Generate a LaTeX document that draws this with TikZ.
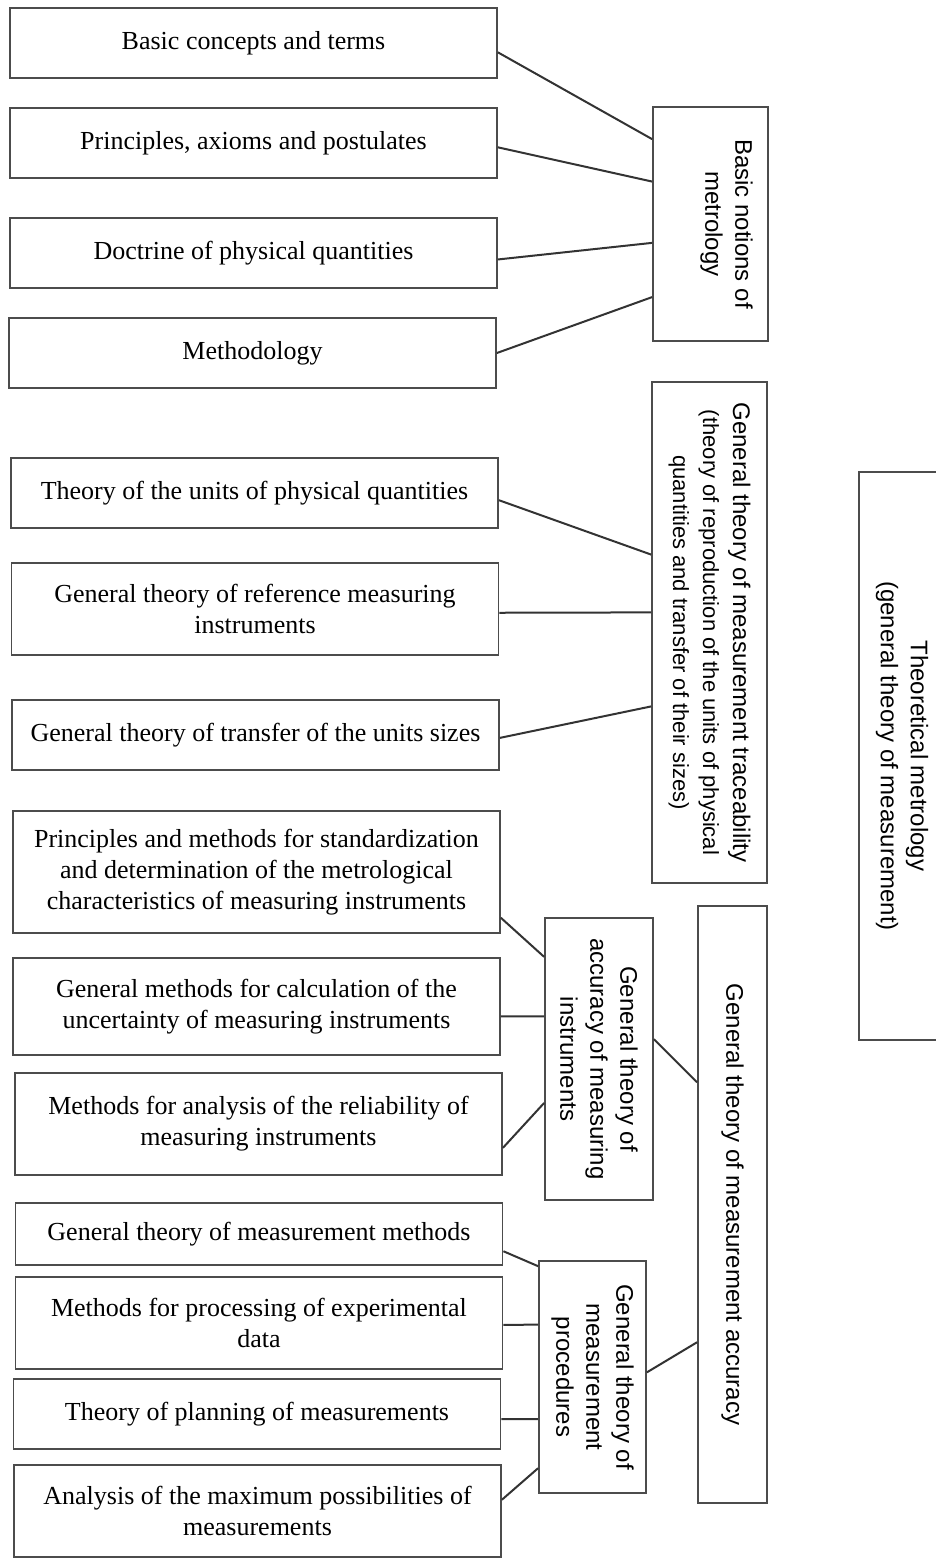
\documentclass[tikz,border=0pt]{standalone}
\usepackage{fontspec}
\setmainfont{Liberation Serif}
\newfontfamily\labelsf{Liberation Sans}
\usetikzlibrary{positioning}
\usetikzlibrary{calc}

\newcommand{\smallsf}{\fontsize{11}{14}\selectfont}

\tikzset{
  topic/.style={draw=black!70, line width=0.9pt, minimum width=243.5pt, align=center, inner sep=1pt,
    font=\fontsize{13}{15.5}\selectfont},
  branch/.style={draw=black!70, line width=0.9pt, rotate=-90, align=center, inner sep=1pt,
    font=\labelsf\fontsize{12}{15}\selectfont},
  link/.style={draw=black!80, line width=1pt}
}

\begin{document}
\begin{tikzpicture}[x=0.5pt,y=-0.5pt]
\useasboundingbox (0,0) rectangle (936,1560);

% left column
\node[topic, minimum height=35pt] (concepts) at (253.5,43) {Basic concepts and terms};
\node[topic, minimum height=35pt] (axioms) at (253.5,143) {Principles, axioms and postulates};
\node[topic, minimum height=35pt] (doctrine) at (253.5,253) {Doctrine of physical quantities};
\node[topic, minimum height=35pt] (method) at (252.5,353) {Methodology};

\node[topic, minimum height=35pt] (units) at (254.5,493) {Theory of the units of physical quantities};
\node[topic, minimum height=46pt] (reference) at (255,609) {General theory of reference measuring\\instruments};
\node[topic, minimum height=35pt] (transfer) at (255.5,735) {General theory of transfer of the units sizes};

\node[topic, minimum height=61pt] (standard) at (256.5,872) {Principles and methods for standardization\\and determination of the metrological\\characteristics of measuring instruments};
\node[topic, minimum height=48.5pt] (uncert) at (256.5,1006.5) {General methods for calculation of the\\uncertainty of measuring instruments};
\node[topic, minimum height=51pt] (reliab) at (258.5,1124) {Methods for analysis of the reliability of\\measuring instruments};

\node[topic, minimum height=31pt] (methods) at (259,1234) {General theory of measurement methods};
\node[topic, minimum height=46pt] (processing) at (259,1323) {Methods for processing of experimental\\data};
\node[topic, minimum height=35pt] (planning) at (257,1414) {Theory of planning of measurements};
\node[topic, minimum height=46pt] (maxposs) at (257.5,1511) {Analysis of the maximum possibilities of\\measurements};

% vertical boxes
\node[branch, minimum width=117pt, minimum height=57.5pt, text depth=18.5pt] (notions) at (710.5,224) {Basic notions of\\metrology};
\node[branch, minimum width=250.5pt, minimum height=57.5pt] (trace) at (709.5,632.5) {General theory of measurement traceability\\\smallsf(theory of reproduction of the units of physical\\\smallsf quantities and transfer of their sizes)};
\node[branch, minimum width=141pt, minimum height=54pt] (instr) at (599,1059) {General theory of\\accuracy of measuring\\instruments};
\node[branch, minimum width=116pt, minimum height=53.5pt] (proced) at (592.5,1377) {General theory of\\measurement\\procedures};
\node[branch, minimum width=298.5pt, minimum height=34.5pt] (accuracy) at (732.5,1204.5) {General theory of measurement accuracy};
\node[branch, minimum width=284pt, minimum height=43pt] (theory) at (902,756) {Theoretical metrology\\(general theory of measurement)};

% connectors
\draw[link] ($(concepts.north east)!0.63!(concepts.south east)$) -- ($(notions.south west)!0.14!(notions.south east)$);
\draw[link] ($(axioms.north east)!0.56!(axioms.south east)$) -- ($(notions.south west)!0.32!(notions.south east)$);
\draw[link] ($(doctrine.north east)!0.59!(doctrine.south east)$) -- ($(notions.south west)!0.58!(notions.south east)$);
\draw[link] (method.east) -- ($(notions.south west)!0.81!(notions.south east)$);

\draw[link] ($(units.north east)!0.6!(units.south east)$) -- ($(trace.south west)!0.345!(trace.south east)$);
\draw[link] ($(reference.north east)!0.54!(reference.south east)$) -- ($(trace.south west)!0.46!(trace.south east)$);
\draw[link] ($(transfer.north east)!0.54!(transfer.south east)$) -- ($(trace.south west)!0.647!(trace.south east)$);

\draw[link] ($(standard.north east)!0.87!(standard.south east)$) -- ($(instr.south west)!0.14!(instr.south east)$);
\draw[link] ($(uncert.north east)!0.6!(uncert.south east)$) -- ($(instr.south west)!0.35!(instr.south east)$);
\draw[link] ($(reliab.north east)!0.73!(reliab.south east)$) -- ($(instr.south west)!0.655!(instr.south east)$);

\draw[link] ($(methods.north east)!0.77!(methods.south east)$) -- ($(proced.south west)!0.026!(proced.south east)$);
\draw[link] ($(processing.north east)!0.52!(processing.south east)$) -- ($(proced.south west)!0.276!(proced.south east)$);
\draw[link] ($(planning.north east)!0.57!(planning.south east)$) -- ($(proced.south west)!0.68!(proced.south east)$);
\draw[link] ($(maxposs.north east)!0.38!(maxposs.south east)$) -- ($(proced.south west)!0.89!(proced.south east)$);

\draw[link] ($(instr.north west)!0.43!(instr.north east)$) -- ($(accuracy.south west)!0.296!(accuracy.south east)$);
\draw[link] ($(proced.north west)!0.48!(proced.north east)$) -- ($(accuracy.south west)!0.73!(accuracy.south east)$);
\end{tikzpicture}
\end{document}
